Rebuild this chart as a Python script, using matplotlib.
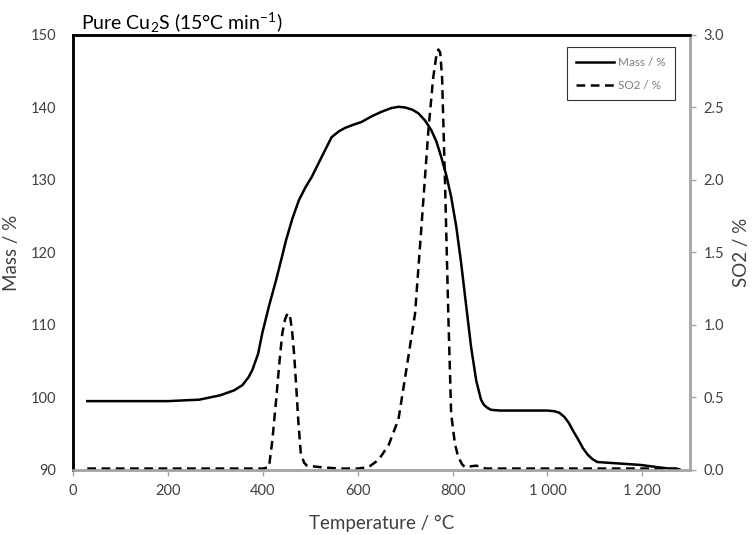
import matplotlib
matplotlib.use("Agg")
import matplotlib.pyplot as plt

plt.rcParams['font.family'] = ['Lato', 'DejaVu Sans']
plt.rcParams['mathtext.fontset'] = 'custom'
plt.rcParams['mathtext.rm'] = 'Lato'
plt.rcParams['mathtext.it'] = 'Lato'

# mass curve (left axis)
mass_t = [30, 100, 200, 266, 310, 340, 357, 370, 378, 390, 399, 413, 428, 440, 449, 462,
          476, 490, 503, 525, 545, 560, 574, 590, 608, 630, 650, 670, 686, 700, 715, 728,
          742, 755, 766, 776, 787, 797, 808, 818, 829, 839, 850, 860, 866, 873, 881,
          900, 950, 1000, 1015, 1025, 1036, 1045, 1055, 1064, 1075, 1085, 1095, 1105,
          1150, 1196, 1231, 1255, 1278]
mass = [99.5, 99.5, 99.5, 99.7, 100.3, 101.0, 101.7, 102.8, 103.8, 106.0, 108.9, 112.6,
        116.2, 119.3, 121.7, 124.6, 127.2, 129.0, 130.4, 133.3, 135.9, 136.7, 137.2,
        137.6, 138.0, 138.8, 139.4, 139.9, 140.1, 140.0, 139.7, 139.2, 138.2, 136.9,
        135.3, 133.2, 130.6, 127.7, 123.5, 118.6, 112.5, 107.0, 102.3, 99.7, 99.0, 98.6,
        98.3, 98.2, 98.2, 98.2, 98.1, 97.9, 97.3, 96.5, 95.3, 94.3, 93.0, 92.1, 91.5,
        91.1, 90.9, 90.7, 90.4, 90.2, 90.1]

# SO2 curve (right axis)
so2_t = [30, 100, 200, 300, 400, 413, 420, 428, 435, 441, 447, 452, 457, 462, 466, 470,
         475, 480, 487, 493, 520, 560, 600, 623, 644, 665, 686, 703, 721, 734, 749, 759,
         765, 770, 774, 778, 784, 791, 797, 805, 812, 820, 826, 850, 870, 900, 1000,
         1100, 1200, 1280]
so2 = [0.01, 0.01, 0.01, 0.01, 0.01, 0.02, 0.2, 0.48, 0.74, 0.94, 1.04, 1.08, 1.07, 0.95,
       0.8, 0.6, 0.33, 0.12, 0.05, 0.03, 0.02, 0.01, 0.01, 0.02, 0.07, 0.17, 0.35, 0.7,
       1.08, 1.66, 2.34, 2.7, 2.84, 2.9, 2.88, 2.7, 2.0, 1.08, 0.39, 0.18, 0.09, 0.04,
       0.02, 0.03, 0.01, 0.01, 0.01, 0.01, 0.01, 0.01]

xticks = [0, 200, 400, 600, 800, 1000, 1200]
xlabels = ['0', '200', '400', '600', '800', '1 000', '1 200']

fig = plt.figure(figsize=(7.53, 5.35), dpi=100)
ax = fig.add_axes([0.097, 0.1215, 0.819, 0.8131])
ax2 = ax.twinx()

l1, = ax.plot(mass_t, mass, color='black', lw=1.8, label='Mass / %')
l2, = ax2.plot(so2_t, so2, color='black', lw=1.8, ls=(0, (3.5, 2.2)), label='SO2 / %')

ax.set_xlim(0, 1300)
ax.set_ylim(90, 150)
ax2.set_ylim(0, 3.0)
ax.set_xticks(xticks)
ax.set_xticklabels(xlabels)
ax.set_yticks(range(90, 151, 10))
ax2.set_yticks([0, 0.5, 1.0, 1.5, 2.0, 2.5, 3.0])
ax2.set_yticklabels(['0.0', '0.5', '1.0', '1.5', '2.0', '2.5', '3.0'])

txt = '#404040'
grey = '#a6a6a6'
for a in (ax, ax2):
    a.spines['top'].set_color('black')
    a.spines['top'].set_linewidth(1.8)
    a.spines['left'].set_color('black')
    a.spines['left'].set_linewidth(1.8)
    a.spines['right'].set_color(grey)
    a.spines['right'].set_linewidth(1.8)
    a.spines['bottom'].set_color(grey)
    a.spines['bottom'].set_linewidth(1.8)
ax.tick_params(axis='x', colors=grey, labelcolor=txt, labelsize=10.5, length=4, width=1, pad=6)
ax.tick_params(axis='y', length=0, labelcolor=txt, labelsize=10.5, pad=12)
ax2.tick_params(axis='y', colors=grey, labelcolor=txt, labelsize=10.5, length=4, width=1, pad=6)

ax.set_xlabel('Temperature / °C', fontsize=13.5, color=txt, labelpad=12)
ax.set_ylabel('Mass / %', fontsize=13.5, color=txt, labelpad=8)
ax2.set_ylabel('SO2 / %', fontsize=13.5, color=txt, labelpad=6)

fig.text(0.107, 0.958, 'Pure Cu$_2$S (15°C min$^{-1}$)', fontsize=14, color='black',
         ha='left', va='center')

leg = ax.legend(handles=[l1, l2], loc='upper right', bbox_to_anchor=(0.985, 0.985),
                fontsize=8.5, frameon=True, fancybox=False, handlelength=3.2,
                borderpad=0.8, labelspacing=1.0, handletextpad=0.3)
leg.get_frame().set_edgecolor('black')
leg.get_frame().set_linewidth(0.8)
for t in leg.get_texts():
    t.set_color('#7f7f7f')

fig.savefig('out.png', dpi=100)
